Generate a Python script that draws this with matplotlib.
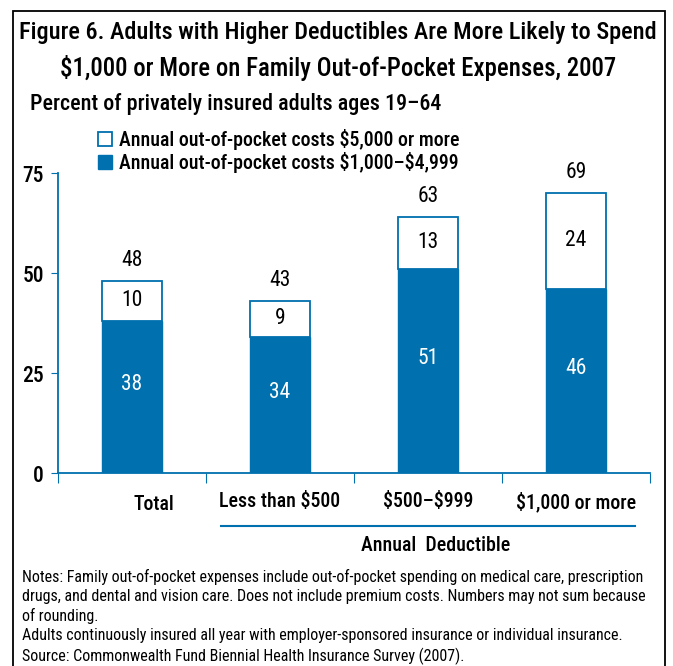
import matplotlib.pyplot as plt
import numpy as np
from matplotlib.patches import Rectangle

plt.rcParams['font.family'] = ['Roboto Condensed', 'DejaVu Sans']

categories = ["Total", "Less than \\$500", "\\$500\u2013\\$999", "\\$1,000 or more"]
low_costs = [38, 34, 51, 46]      # $1,000-$4,999
high_costs = [10, 9, 13, 24]      # $5,000 or more
totals = [48, 43, 63, 69]

blue = '#0070AE'

fig = plt.figure(figsize=(6.73, 6.66), dpi=100)
W, H = 673, 666

# outer frame
fig.patches.append(Rectangle((13 / W, -0.01), (665 - 13) / W, 1.01 - 11 / H,
                             transform=fig.transFigure, fill=False,
                             edgecolor='black', linewidth=1.3))

fig.text(338 / W, 1 - 32 / H,
         "Figure 6. Adults with Higher Deductibles Are More Likely to Spend",
         ha='center', va='center', fontsize=17.5, fontweight=500)
fig.text(338 / W, 1 - 68 / H,
         "\\$1,000 or More on Family Out-of-Pocket Expenses, 2007",
         ha='center', va='center', fontsize=17.8, fontweight=500)
fig.text(30 / W, 1 - 104 / H, "Percent of privately insured adults ages 19\u201364",
         ha='left', va='center', fontsize=15.8, fontweight=500)

ax = fig.add_axes([58 / W, 1 - 473 / H, (650 - 58) / W, 300 / H])
x = np.arange(len(categories)) + 0.5
width = 0.405

ax.bar(x, low_costs, width, color=blue, edgecolor=blue, linewidth=1,
       label="Annual out-of-pocket costs \\$1,000\u2013\\$4,999")
ax.bar(x, high_costs, width, bottom=low_costs, color='white', edgecolor=blue,
       linewidth=1.3, label="Annual out-of-pocket costs \\$5,000 or more")

for xi, lo, hi, tot in zip(x, low_costs, high_costs, totals):
    ax.text(xi, lo / 2 + 3, str(lo), ha='center', va='center', color='white',
            fontsize=15.5)
    ax.text(xi, lo + hi / 2, str(hi), ha='center', va='center', color='black',
            fontsize=15.5)
    ax.text(xi, lo + hi + 5, str(tot), ha='center', va='center', color='black',
            fontsize=15.5)

ax.set_xlim(0, 4)
ax.set_ylim(0, 75)
ax.set_yticks([0, 25, 50, 75])
ax.tick_params(axis='y', length=5, color=blue, labelsize=15.5, pad=5)
for lbl in ax.get_yticklabels():
    lbl.set_fontweight(500)
ax.set_xticks([0, 1, 2, 3, 4])
ax.set_xticklabels([])
ax.tick_params(axis='x', length=7, color=blue, direction='out')
for side in ['top', 'right']:
    ax.spines[side].set_visible(False)
for side in ['left', 'bottom']:
    ax.spines[side].set_color(blue)
    ax.spines[side].set_linewidth(1.3)

# category labels
ax.text(0.65, -8, categories[0], ha='center', va='center', fontsize=14.3,
        fontweight=500, clip_on=False)
for i in range(1, 4):
    ax.text(x[i], -7.2, categories[i], ha='center', va='center', fontsize=14.3,
            fontweight=500, clip_on=False)
ax.plot([1.1, 3.9], [-13.2, -13.2], color=blue, linewidth=1.5, clip_on=False)
ax.text(2.55, -18.2, "Annual  Deductible", ha='center', va='center',
        fontsize=14.3, fontweight=500, clip_on=False)

handles, labels = ax.get_legend_handles_labels()
fig.legend(handles[::-1], labels[::-1], loc='upper left',
           bbox_to_anchor=(80 / W, 1 - 111 / H), frameon=False,
           handlelength=0.7, handleheight=0.7,
           handletextpad=0.35, labelspacing=0.12,
           prop={'family': 'Roboto Condensed', 'weight': 500, 'size': 14.3})

notes = ("Notes: Family out-of-pocket expenses include out-of-pocket spending on medical care, prescription\n"
         "drugs, and dental and vision care. Does not include premium costs. Numbers may not sum because\n"
         "of rounding.\n"
         "Adults continuously insured all year with employer-sponsored insurance or individual insurance.\n"
         "Source: Commonwealth Fund Biennial Health Insurance Survey (2007).")
fig.text(22 / W, 1 - 569 / H, notes, ha='left', va='top', fontsize=11.5,
         linespacing=1.33)

fig.savefig('out.png', dpi=100)
